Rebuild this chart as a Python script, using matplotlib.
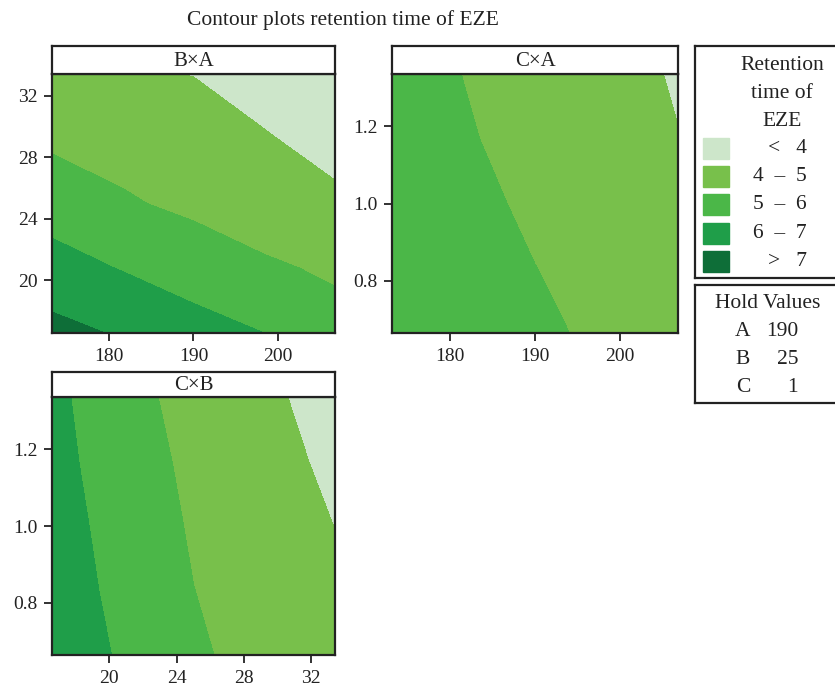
import numpy as np
import matplotlib
matplotlib.use("Agg")
import matplotlib.pyplot as plt
from matplotlib.patches import Rectangle

plt.rcParams['font.family'] = ['Liberation Serif', 'DejaVu Serif']

# factor grids (coded -1.682 .. +1.682)
a_pts = [173.18, 181.59, 190.0, 198.41, 206.82]
b_pts = [16.59, 20.80, 25.00, 29.20, 33.41]
c_pts = [0.664, 0.832, 1.000, 1.168, 1.336]

# retention time (rows = y values, cols = x values)
z_ba = [[7.30, 6.90, 6.36, 6.00, 5.46],
        [6.38, 5.95, 5.57, 5.18, 4.82],
        [5.56, 5.11, 4.79, 4.34, 4.22],
        [4.83, 4.64, 4.44, 4.09, 3.61],
        [4.20, 4.10, 3.98, 3.50, 3.00]]
z_ca = [[5.82, 5.46, 5.14, 4.85, 4.49],
        [5.70, 5.34, 5.01, 4.74, 4.34],
        [5.58, 5.22, 4.86, 4.62, 4.19],
        [5.46, 5.07, 4.76, 4.53, 4.03],
        [5.35, 4.99, 4.68, 4.43, 3.89]]
z_cb = [[6.58, 5.89, 5.11, 4.73, 4.36],
        [6.49, 5.75, 5.01, 4.61, 4.20],
        [6.42, 5.62, 4.90, 4.45, 3.99],
        [6.33, 5.46, 4.80, 4.29, 3.83],
        [6.26, 5.28, 4.72, 4.18, 3.64]]

levels = [0, 4, 5, 6, 7, 20]
colors = ['#cde6ca', '#78c04b', '#4bb748', '#1f9e49', '#0e6e38']
level_labels = ['<   4', '4  –  5', '5  –  6', '6  –  7', '>   7']

hold_names = ['A', 'B', 'C']
hold_vals = ['190', '25', '1']

W, H = 835, 686
FS = 15.5
TFS = 14
INK = '#222222'
fig = plt.figure(figsize=(W / 100, H / 100), dpi=100)


def px_axes(l, t, r, b):
    return fig.add_axes([l / W, 1 - b / H, (r - l) / W, (b - t) / H])


def frame(ax):
    for s in ax.spines.values():
        s.set_linewidth(1.6)
        s.set_color(INK)


def panel(l, t_strip, t, r, b, xs, ys, z, title, xticks, yticks, yfmt):
    ax = px_axes(l, t, r, b)
    ax.contourf(xs, ys, np.array(z), levels=levels, colors=colors)
    ax.set_xlim(xs[0], xs[-1])
    ax.set_ylim(ys[0], ys[-1])
    ax.set_xticks(xticks)
    ax.set_yticks(yticks)
    ax.set_yticklabels([yfmt.format(v) for v in yticks])
    ax.tick_params(direction='out', length=5.5, width=1.3, labelsize=TFS,
                   colors=INK, pad=5)
    frame(ax)
    st = px_axes(l, t_strip, r, t)
    st.set_xticks([])
    st.set_yticks([])
    frame(st)
    st.text(0.5, 0.45, title, ha='center', va='center', fontsize=15,
            color=INK, transform=st.transAxes)
    return ax


panel(52, 46, 74, 335, 333, a_pts, b_pts, z_ba, 'B×A',
      [180, 190, 200], [20, 24, 28, 32], '{:.0f}')
panel(392, 46, 74, 678, 333, a_pts, c_pts, z_ca, 'C×A',
      [180, 190, 200], [0.8, 1.0, 1.2], '{:.1f}')
panel(52, 372, 397, 335, 655, b_pts, c_pts, z_cb, 'C×B',
      [20, 24, 28, 32], [0.8, 1.0, 1.2], '{:.1f}')

fig.text(343 / W, 1 - 20 / H, 'Contour plots retention time of EZE',
         ha='center', va='center', fontsize=FS, color=INK)

# legend box
lg = px_axes(695, 46, 840, 278)
lg.set_xlim(695, 840)
lg.set_ylim(278, 46)
lg.set_xticks([])
lg.set_yticks([])
frame(lg)
for i, line in enumerate(['Retention', 'time of', 'EZE']):
    lg.text(782, 65 + i * 28.5, line, ha='center', va='center',
            fontsize=FS, color=INK)
for i, (c, lab) in enumerate(zip(colors, level_labels)):
    yc = 148.5 + i * 28.2
    lg.add_patch(Rectangle((703, yc - 10.5), 26, 21, color=c))
    lg.text(807, yc, lab, ha='right', va='center', fontsize=FS, color=INK)

hv = px_axes(695, 285, 840, 403)
hv.set_xlim(695, 840)
hv.set_ylim(403, 285)
hv.set_xticks([])
hv.set_yticks([])
frame(hv)
hv.text(768, 304, 'Hold Values', ha='center', va='center', fontsize=FS,
        color=INK)
for i, (n, v) in enumerate(zip(hold_names, hold_vals)):
    yc = 332 + i * 28
    hv.text(743, yc, n, ha='center', va='center', fontsize=FS, color=INK)
    hv.text(798, yc, v, ha='right', va='center', fontsize=FS, color=INK)

fig.savefig('out.png', dpi=100)
